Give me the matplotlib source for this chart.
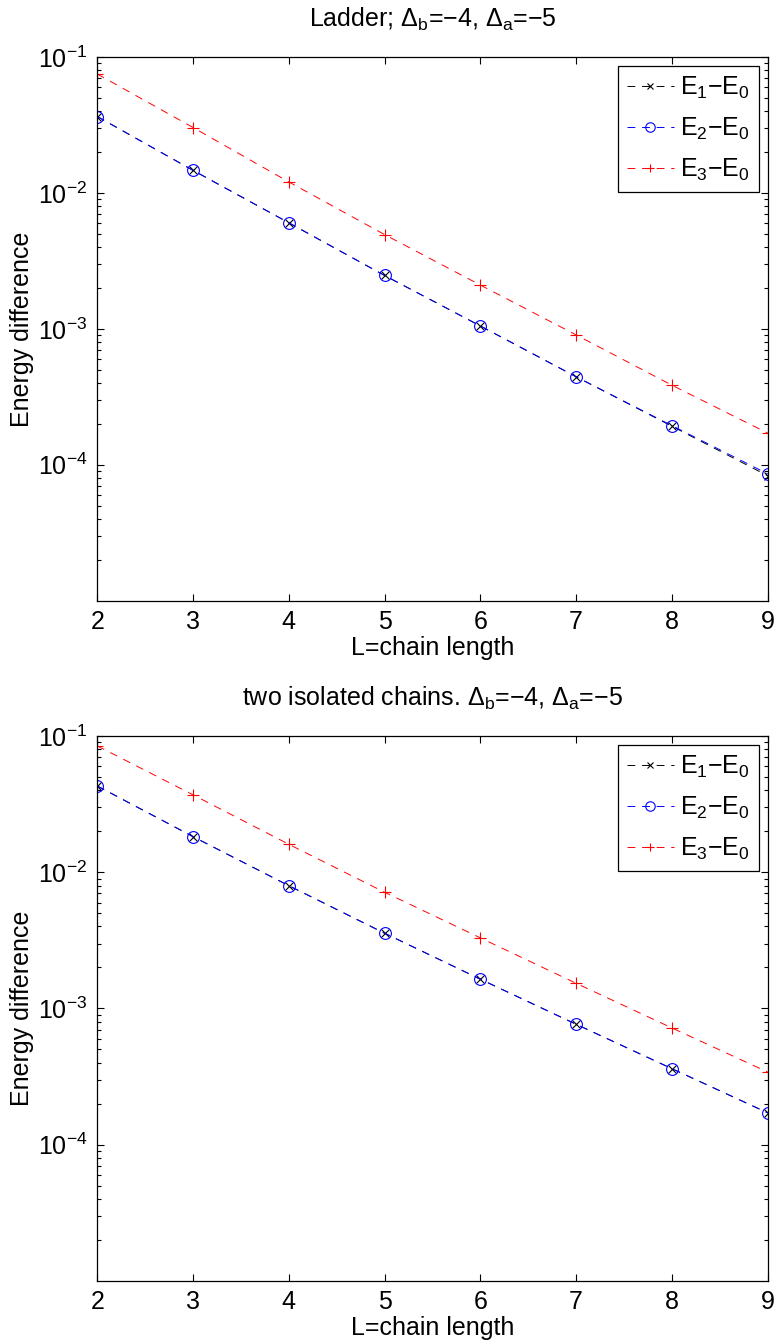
import matplotlib
matplotlib.use('Agg')
import matplotlib.pyplot as plt
import numpy as np

plt.rcParams['font.family'] = ['Liberation Sans', 'DejaVu Sans']
plt.rcParams['mathtext.fontset'] = 'custom'
plt.rcParams['mathtext.rm'] = 'Liberation Sans'
plt.rcParams['mathtext.it'] = 'Liberation Sans'
plt.rcParams['mathtext.bf'] = 'Liberation Sans'
plt.rcParams['axes.unicode_minus'] = True

# chain length
L = [2, 3, 4, 5, 6, 7, 8, 9]

# ladder, Delta_b=-4, Delta_a=-5
ladder_e1 = [0.0365, 0.01466, 0.00603, 0.00247, 0.00105, 0.000444, 0.000192, 0.000083]
ladder_e2 = [0.0365, 0.01466, 0.00603, 0.00247, 0.00105, 0.000444, 0.000194, 0.0000857]
ladder_e3 = [0.0750, 0.0303, 0.01205, 0.00494, 0.00210, 0.000902, 0.000385, 0.000171]

# two isolated chains
iso_e1 = [0.0431, 0.01829, 0.00798, 0.00357, 0.00164, 0.000765, 0.000361, 0.000171]
iso_e2 = [0.0431, 0.01829, 0.00798, 0.00357, 0.00164, 0.000765, 0.000361, 0.000171]
iso_e3 = [0.0849, 0.0371, 0.01607, 0.00714, 0.00330, 0.00153, 0.000719, 0.000341]

titles = ['Ladder; $\\Delta_b$=\u22124, $\\Delta_a$=\u22125',
          'two isolated chains. $\\Delta_b$=\u22124, $\\Delta_a$=\u22125']
labels = ['$\\mathrm{E_1{-}E_0}$', '$\\mathrm{E_2{-}E_0}$', '$\\mathrm{E_3{-}E_0}$']

fs = 18
dash = (0, (8, 7))

fig = plt.figure(figsize=(7.75, 13.42), dpi=100)
positions = [[0.1255, 0.5524, 0.8651, 0.4051],
             [0.1255, 0.0457, 0.8651, 0.4057]]
datasets = [(ladder_e1, ladder_e2, ladder_e3), (iso_e1, iso_e2, iso_e3)]

for pos, data, title in zip(positions, datasets, titles):
    ax = fig.add_axes(pos)
    e1, e2, e3 = data
    ax.semilogy(L, e1, color='k', ls=dash, lw=0.7, marker='x', ms=6, mew=0.8, label=labels[0])
    ax.semilogy(L, e2, color='b', ls=dash, lw=0.7, marker='o', ms=8.5, mfc='none', mew=0.8, label=labels[1])
    ax.semilogy(L, e3, color='r', ls=dash, lw=0.7, marker='+', ms=8, mew=0.8, label=labels[2])
    ax.set_xlim(2, 9)
    ax.set_ylim(1e-5, 1e-1)
    ax.set_xticks(L)
    ax.set_yticks([1e-4, 1e-3, 1e-2, 1e-1])
    ax.tick_params(which='both', direction='in', top=True, right=True, labelsize=fs)
    ax.tick_params(which='major', length=5, width=0.8, pad=7)
    ax.tick_params(which='minor', length=3, width=0.8)
    for s in ax.spines.values():
        s.set_linewidth(0.9)
    ax.set_xlabel('L=chain length', fontsize=fs, labelpad=1)
    ax.set_ylabel('Energy difference', fontsize=fs, labelpad=3)
    ax.set_title(title, fontsize=fs, pad=22)
    leg = ax.legend(loc='upper right', fontsize=fs, fancybox=False, edgecolor='k',
                    framealpha=1, handlelength=1.9, handletextpad=0.25, markerscale=0.8,
                    labelspacing=0.6, borderpad=0.35, borderaxespad=0.35)
    leg.get_frame().set_linewidth(0.9)

fig.savefig('out.png', dpi=100)
